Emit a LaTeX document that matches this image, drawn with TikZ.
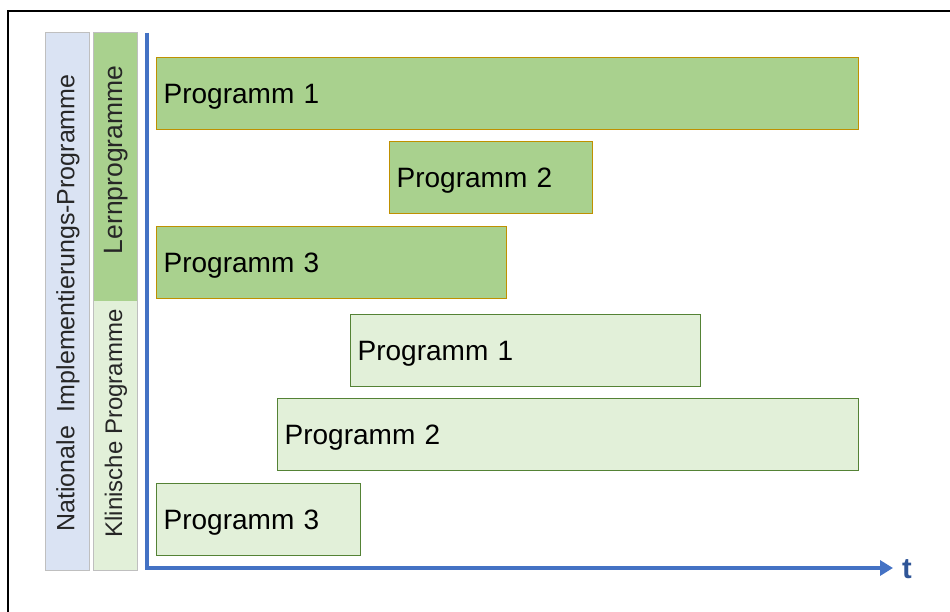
\documentclass[tikz,border=0pt]{standalone}
\usepackage{fontspec}
\setmainfont{Liberation Sans}
\usepackage{xcolor}
\usepackage{tikz}
\usetikzlibrary{arrows.meta}

\definecolor{axisblue}{HTML}{4472C4}
\definecolor{tblue}{HTML}{2F5597}
\definecolor{natblue}{HTML}{DAE3F3}
\definecolor{darkgreen}{HTML}{A9D18E}
\definecolor{lightgreen}{HTML}{E2F0D9}
\definecolor{goldline}{HTML}{BF9000}
\definecolor{greenline}{HTML}{548235}
\definecolor{colline}{HTML}{BFBFBF}

\tikzset{
  lern/.style={draw=goldline, fill=darkgreen, line width=1.3pt, anchor=north west,
    minimum height=72pt, inner xsep=7pt, align=left, text depth=0pt,
    font=\fontsize{28}{30}\selectfont},
  klin/.style={draw=greenline, fill=lightgreen, line width=1.3pt, anchor=north west,
    minimum height=72pt, inner xsep=7pt, align=left, text depth=0pt,
    font=\fontsize{28}{30}\selectfont},
  coltext/.style={rotate=90, inner sep=0pt, text=black!85}
}

\begin{document}
\begin{tikzpicture}[x=1pt,y=-1pt]
\useasboundingbox (0,0) rectangle (950,612) ;
% frame
\draw[line width=2pt] (8,612) -- (8,11) -- (950,11) ;
% left columns
\fill[natblue] (45,33) rectangle (89,570) ;
\fill[darkgreen] (93,33) rectangle (137,301) ;
\fill[lightgreen] (93,301) rectangle (137,570) ;
\draw[colline, line width=1pt] (45,33) rectangle (89,570) ;
\draw[colline, line width=1pt] (93,33) rectangle (137,570) ;
\node[coltext, font=\fontsize{25}{27}\selectfont] (nat) at (68,303) {Nationale~~Implementierungs-Programme} ;
\node[coltext, font=\fontsize{26.5}{28}\selectfont] (lern) at (116,160) {Lernprogramme} ;
\node[coltext, font=\fontsize{24}{26}\selectfont] (klin) at (116,423.5) {Klinische Programme} ;
% time axis
\coordinate (top) at (147,33) ;
\coordinate (o) at (147,568) ;
\coordinate (end) at (893,568) ;
\draw[axisblue, line width=4pt, -{Triangle[length=13pt,width=15pt]}] (top) -- (o) -- (end) ;
\node[anchor=base west, inner sep=0pt, text=tblue, font=\fontsize{29}{30}\selectfont\bfseries] (t) at (902,578) {t} ;
% programmes
\node[lern, text width=688pt] (l1) at (156,57) {Programm 1} ;
\node[lern, text width=189pt] (l2) at (389,141) {Programm 2} ;
\node[lern, text width=336pt] (l3) at (156,226) {Programm 3} ;
\node[klin, text width=336pt] (k1) at (350,314) {Programm 1} ;
\node[klin, text width=567pt] (k2) at (277,398) {Programm 2} ;
\node[klin, text width=190pt] (k3) at (156,483) {Programm 3} ;
\end{tikzpicture}
\end{document}
